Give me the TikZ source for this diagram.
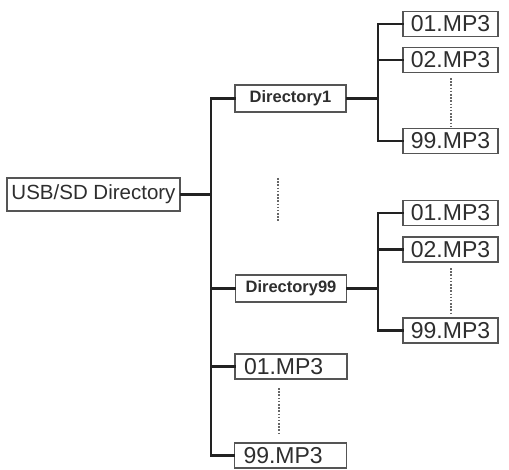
\documentclass[tikz,border=0pt]{standalone}
\usepackage{fontspec}
\setmainfont{Liberation Sans}
\usetikzlibrary{calc}
\definecolor{txt}{HTML}{2E2E2E}
\definecolor{lin}{HTML}{222222}
\definecolor{brd}{HTML}{555555}
\definecolor{dot}{HTML}{666666}
\tikzset{
  box/.style={draw=brd, line width=1.4pt, fill=white, text=txt, inner sep=0pt, anchor=center},
  rootbox/.style={box, minimum width=173bp, minimum height=33bp, font=\fontsize{20.5bp}{22bp}\selectfont},
  dirbox/.style={box, minimum width=111bp, minimum height=27bp, font=\bfseries\fontsize{16.5bp}{18bp}\selectfont},
  subfile/.style={box, minimum width=95bp, minimum height=25bp, font=\fontsize{23bp}{24bp}\selectfont},
  rootfile/.style={box, text width=94bp, inner xsep=9bp, align=left, minimum height=25bp, font=\fontsize{23bp}{24bp}\selectfont},
  conn/.style={draw=lin, line width=2.4pt, line cap=rect},
  dots/.style={draw=dot, line width=1.6pt, dash pattern=on 1.6pt off 1.6pt},
}
\begin{document}
\begin{tikzpicture}[x=1bp, y=-1bp]
\useasboundingbox (0,0) rectangle (509,470);
% nodes
\node[rootbox] (root) at (93.5,194.5) {USB/SD Directory};
\node[dirbox] (d1) at (290.5,98.5) {Directory1};
\node[dirbox] (d99) at (291,288.5) {Directory99};
\node[rootfile] (f1) at (291,366.5) {01.MP3};
\node[rootfile] (f99) at (290.5,455.5) {99.MP3};
\node[subfile] (a1) at (450.5,24) {01.MP3};
\node[subfile] (a2) at (450.5,60) {02.MP3};
\node[subfile] (a99) at (450.5,141) {99.MP3};
\node[subfile] (b1) at (450.5,213) {01.MP3};
\node[subfile] (b2) at (450.5,249.5) {02.MP3};
\node[subfile] (b99) at (450.5,330.5) {99.MP3};
% trunk coordinates
\coordinate (t) at (211,0);
\coordinate (s) at (378,0);
% main trunk
\draw[conn] (root.east) -- (root.east -| t);
\draw[conn] (d1.west) -- (d1.west -| t) -- (f99.west -| t) -- (f99.west);
\draw[conn] (d99.west -| t) -- (d99.west);
\draw[conn] (f1.west -| t) -- (f1.west);
% sub trunk 1
\draw[conn] (d1.east) -- (d1.east -| s);
\draw[conn] (a1.west) -- (a1.west -| s) -- (a99.west -| s) -- (a99.west);
\draw[conn] (a2.west -| s) -- (a2.west);
% sub trunk 2
\draw[conn] (d99.east) -- (d99.east -| s);
\draw[conn] (b1.west) -- (b1.west -| s) -- (b99.west -| s) -- (b99.west);
\draw[conn] (b2.west -| s) -- (b2.west);
% dotted ellipses
\draw[dots] (451,78) -- (451,126);
\draw[dots] (451,268) -- (451,314);
\draw[dots] (278,178) -- (278,222);
\draw[dots] (279,388) -- (279,433);
\end{tikzpicture}
\end{document}
